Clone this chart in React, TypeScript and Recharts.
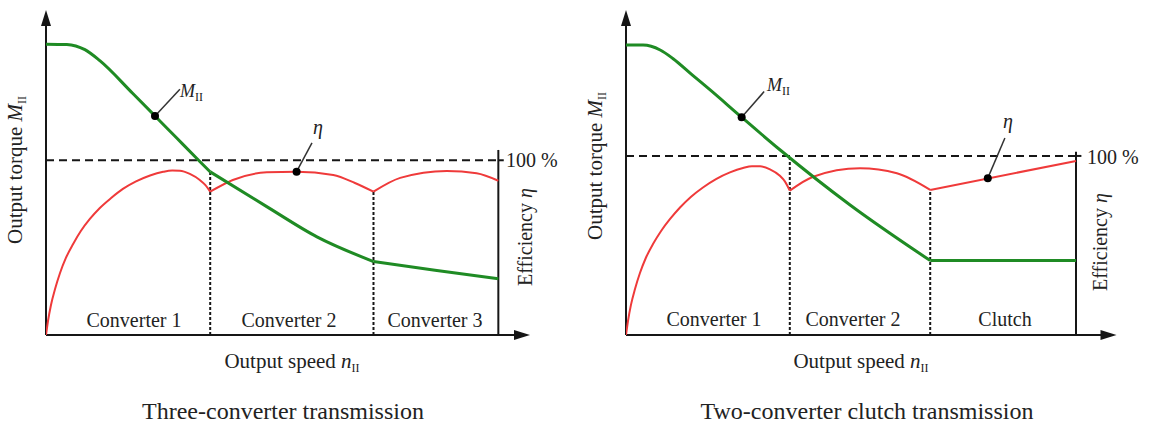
import React from 'react';
import { LineChart, Line, XAxis, YAxis, ReferenceLine, ReferenceDot } from 'recharts';

const FONT = '"Liberation Serif", "Times New Roman", serif';
const GREEN = '#1f8b24';
const RED = '#ef3a3a';
const INK = '#161616';
const TXT = '#222';

// ---------- Left: three-converter transmission ----------
const leftTorque1 = [
  { x: 0, T: 89.5 }, { x: 4.6, T: 89.4 }, { x: 8.6, T: 87.8 }, { x: 11.9, T: 84.4 },
  { x: 19.2, T: 74.3 }, { x: 24.1, T: 67.4 }, { x: 28.9, T: 60.6 }, { x: 34.0, T: 53.4 }, { x: 36.3, T: 50.2 },
];
const leftTorque2 = [{ x: 36.3, T: 50.2 }, { x: 48.8, T: 39.5 }, { x: 59.9, T: 30.2 }, { x: 72.4, T: 22.6 }];
const leftTorque3 = [{ x: 72.4, T: 22.6 }, { x: 86, T: 19.9 }, { x: 100, T: 17.3 }];
const leftEta1 = [
  { x: 0, e: 0 }, { x: 0.44, e: 8.0 }, { x: 1.1, e: 17.2 }, { x: 2.0, e: 26.3 }, { x: 3.1, e: 35.5 },
  { x: 4.4, e: 44.1 }, { x: 6.0, e: 52.1 }, { x: 7.7, e: 59.5 }, { x: 9.7, e: 66.4 }, { x: 11.9, e: 72.7 },
  { x: 14.4, e: 78.4 }, { x: 17.0, e: 83.6 }, { x: 19.9, e: 87.9 }, { x: 23.0, e: 91.3 }, { x: 25.9, e: 93.4 },
  { x: 27.9, e: 94.1 }, { x: 29.6, e: 94.0 }, { x: 31.8, e: 92.2 }, { x: 34.0, e: 88.7 }, { x: 35.2, e: 85.9 },
  { x: 36.3, e: 82.0 },
];
const leftEta2 = [
  { x: 36.3, e: 82.0 }, { x: 41.3, e: 88.7 }, { x: 48.8, e: 93.1 }, { x: 55.4, e: 93.5 },
  { x: 63.5, e: 91.6 }, { x: 68.3, e: 87.0 }, { x: 72.4, e: 82.0 },
];
const leftEta3 = [{ x: 72.4, e: 82.0 }, { x: 78.3, e: 89.9 }, { x: 88.6, e: 93.9 }, { x: 95.2, e: 92.6 }, { x: 100, e: 88.3 }];
const leftDividers = [{ x: 36.3, top: 93.3 }, { x: 72.4, top: 82.0 }];
const leftDots = { M: { x: 24.1, T: 67.4, lx: 29.6, lT: 75.6 }, eta: { x: 55.4, e: 93.5, lx: 58.8, le: 109.9 } };
const leftSections = ['Converter 1', 'Converter 2', 'Converter 3'];

// ---------- Right: two-converter clutch transmission ----------
const rightTorque1 = [
  { x: 0, T: 89.2 }, { x: 3.8, T: 89.2 }, { x: 7.6, T: 87.7 }, { x: 10.4, T: 85.1 }, { x: 14.9, T: 79.8 },
  { x: 18.7, T: 75.4 }, { x: 25.7, T: 67.0 }, { x: 34.2, T: 57.0 }, { x: 49.8, T: 40.0 }, { x: 67.6, T: 22.9 },
];
const rightTorque2 = [{ x: 67.6, T: 22.9 }, { x: 100, T: 22.9 }];
const rightEta1 = [
  { x: 0, e: 0 }, { x: 0.44, e: 7.8 }, { x: 1.1, e: 16.8 }, { x: 2.0, e: 25.7 }, { x: 3.1, e: 34.6 },
  { x: 4.4, e: 43.0 }, { x: 6.0, e: 50.8 }, { x: 7.8, e: 58.1 }, { x: 9.8, e: 64.8 }, { x: 12.0, e: 71.2 },
  { x: 14.4, e: 77.1 }, { x: 17.1, e: 82.4 }, { x: 20.0, e: 87.1 }, { x: 23.1, e: 90.8 }, { x: 26.0, e: 93.3 },
  { x: 28.0, e: 94.3 }, { x: 29.8, e: 94.2 }, { x: 32.0, e: 92.5 }, { x: 34.2, e: 88.9 }, { x: 35.3, e: 85.8 },
  { x: 36.4, e: 80.6 },
];
const rightEta2 = [{ x: 36.4, e: 80.6 }, { x: 41.6, e: 88.4 }, { x: 52.0, e: 93.1 }, { x: 60.2, e: 90.3 }, { x: 67.6, e: 81.0 }];
const rightEta3 = [{ x: 67.6, e: 81.0 }, { x: 100, e: 97.2 }];
const rightDividers = [{ x: 36.4, top: 100 }, { x: 67.6, top: 81.0 }];
const rightDots = { M: { x: 25.7, T: 67.0, lx: 30.7, lT: 74.9 }, eta: { x: 80.4, e: 87.6, lx: 84.2, le: 110.0 } };
const rightSections = ['Converter 1', 'Converter 2', 'Clutch'];

const ArrowUp = (p: any) => (
  <polygon points={`${p.cx},${p.cy} ${p.cx - 5},${p.cy + 16} ${p.cx + 5},${p.cy + 16}`} fill={INK} />
);
const ArrowRight = (p: any) => (
  <polygon points={`${p.cx},${p.cy} ${p.cx - 16},${p.cy - 5} ${p.cx - 16},${p.cy + 5}`} fill={INK} />
);
const Dot = (p: any) => <circle cx={p.cx} cy={p.cy} r={4} fill="#000" />;

type PanelProps = {
  width: number; marginRight: number; xMax: number; etaMax: number; rightTop: number;
  torque: { x: number; T: number }[][]; eta: { x: number; e: number }[][];
  dividers: { x: number; top: number }[]; dots: any;
};

function Panel(props: PanelProps) {
  const { width, marginRight, xMax, etaMax, rightTop, torque, eta, dividers, dots } = props;
  return (
    <LineChart width={width} height={425} margin={{ top: 10, right: marginRight, bottom: 90, left: 46 }}>
      <XAxis type="number" dataKey="x" domain={[0, xMax]} hide allowDataOverflow />
      <YAxis yAxisId="T" type="number" domain={[0, 100]} hide allowDataOverflow />
      <YAxis yAxisId="eta" type="number" domain={[0, etaMax]} hide allowDataOverflow />
      {/* axes */}
      <ReferenceLine yAxisId="T" ifOverflow="visible" segment={[{ x: 0, y: 0 }, { x: xMax - 1, y: 0 }]} stroke={INK} strokeWidth={2} />
      <ReferenceLine yAxisId="T" ifOverflow="visible" segment={[{ x: 0, y: 0 }, { x: 0, y: 97 }]} stroke={INK} strokeWidth={2} />
      <ReferenceLine yAxisId="eta" ifOverflow="visible" segment={[{ x: 100, y: 0 }, { x: 100, y: rightTop }]} stroke={INK} strokeWidth={2} />
      <ReferenceLine yAxisId="eta" ifOverflow="visible" segment={[{ x: 0, y: 100 }, { x: 100, y: 100 }]} stroke={INK} strokeWidth={2} strokeDasharray="8 5" />
      <ReferenceLine yAxisId="eta" ifOverflow="visible" segment={[{ x: 100, y: 100 }, { x: 101.2, y: 100 }]} stroke={INK} strokeWidth={2} />
      {dividers.map((d, i) => (
        <ReferenceLine key={'d' + i} yAxisId="eta" ifOverflow="visible" segment={[{ x: d.x, y: 0 }, { x: d.x, y: d.top }]} stroke={INK} strokeWidth={2} strokeDasharray="3 2" />
      ))}
      <ReferenceDot yAxisId="T" ifOverflow="visible" x={0} y={100} shape={ArrowUp} />
      <ReferenceDot yAxisId="T" ifOverflow="visible" x={xMax} y={0} shape={ArrowRight} />
      {eta.map((d, i) => (
        <Line key={'e' + i} yAxisId="eta" data={d} dataKey="e" type="monotone" stroke={RED} strokeWidth={2} dot={false} activeDot={false} isAnimationActive={false} />
      ))}
      {torque.map((d, i) => (
        <Line key={'t' + i} yAxisId="T" data={d} dataKey="T" type="monotone" stroke={GREEN} strokeWidth={3} dot={false} activeDot={false} isAnimationActive={false} />
      ))}
      {/* leaders and dots */}
      <ReferenceLine yAxisId="T" ifOverflow="visible" segment={[{ x: dots.M.x, y: dots.M.T }, { x: dots.M.lx, y: dots.M.lT }]} stroke="#333" strokeWidth={1.5} />
      <ReferenceLine yAxisId="eta" ifOverflow="visible" segment={[{ x: dots.eta.x, y: dots.eta.e }, { x: dots.eta.lx, y: dots.eta.le }]} stroke="#333" strokeWidth={1.5} />
      <ReferenceDot yAxisId="T" ifOverflow="visible" x={dots.M.x} y={dots.M.T} shape={Dot} />
      <ReferenceDot yAxisId="eta" ifOverflow="visible" x={dots.eta.x} y={dots.eta.e} shape={Dot} />
    </LineChart>
  );
}

function Overlay() {
  const t = { fontFamily: FONT, fill: TXT } as const;
  const sub = (s: string) => <tspan fontSize={12} dy={4} fontStyle="normal">{s}</tspan>;
  return (
    <svg width={1157} height={425} style={{ position: 'absolute', left: 0, top: 0, pointerEvents: 'none' }}>
      {/* left panel */}
      <text {...t} fontSize={21} textAnchor="middle" transform="rotate(-90 22 170)" x={22} y={170}>
        Output torque <tspan fontStyle="italic">M</tspan>{sub('II')}
      </text>
      <text {...t} fontSize={20} textAnchor="middle" transform="rotate(-90 532 237)" x={532} y={237}>
        Efficiency <tspan fontStyle="italic">η</tspan>
      </text>
      <text {...t} fontSize={20} x={506} y={167}>100 %</text>
      <text {...t} fontSize={20} textAnchor="middle" x={134} y={327}>{leftSections[0]}</text>
      <text {...t} fontSize={20} textAnchor="middle" x={289} y={327}>{leftSections[1]}</text>
      <text {...t} fontSize={20} textAnchor="middle" x={435} y={327}>{leftSections[2]}</text>
      <text {...t} fontSize={21} textAnchor="middle" x={292} y={368}>
        Output speed <tspan fontStyle="italic">n</tspan>{sub('II')}
      </text>
      <text {...t} fontSize={24} textAnchor="middle" x={283} y={419}>Three-converter transmission</text>
      <text {...t} fontSize={18} x={180} y={97}><tspan fontStyle="italic">M</tspan>{sub('II')}</text>
      <text {...t} fontSize={20} fontStyle="italic" textAnchor="middle" x={318} y={134}>η</text>

      {/* right panel */}
      <text {...t} fontSize={21} textAnchor="middle" transform="rotate(-90 602 166)" x={602} y={166}>
        Output torque <tspan fontStyle="italic">M</tspan>{sub('II')}
      </text>
      <text {...t} fontSize={20} textAnchor="middle" transform="rotate(-90 1107 242)" x={1107} y={242}>
        Efficiency <tspan fontStyle="italic">η</tspan>
      </text>
      <text {...t} fontSize={20} x={1087} y={164}>100 %</text>
      <text {...t} fontSize={20} textAnchor="middle" x={714} y={326}>{rightSections[0]}</text>
      <text {...t} fontSize={20} textAnchor="middle" x={853} y={326}>{rightSections[1]}</text>
      <text {...t} fontSize={20} textAnchor="middle" x={1005} y={326}>{rightSections[2]}</text>
      <text {...t} fontSize={21} textAnchor="middle" x={861} y={368}>
        Output speed <tspan fontStyle="italic">n</tspan>{sub('II')}
      </text>
      <text {...t} fontSize={24} textAnchor="middle" x={867} y={419}>Two-converter clutch transmission</text>
      <text {...t} fontSize={18} x={767} y={91}><tspan fontStyle="italic">M</tspan>{sub('II')}</text>
      <text {...t} fontSize={20} fontStyle="italic" textAnchor="middle" x={1008} y={128}>η</text>
    </svg>
  );
}

export default function App() {
  return (
    <div style={{ position: 'absolute', left: 0, top: 0, width: 1157, height: 425, background: '#fff', overflow: 'hidden' }}>
      <div style={{ position: 'absolute', left: 0, top: 0 }}>
        <Panel width={580} marginRight={50} xMax={107} etaMax={186} rightTop={105.9}
          torque={[leftTorque1, leftTorque2, leftTorque3]} eta={[leftEta1, leftEta2, leftEta3]}
          dividers={leftDividers} dots={leftDots} />
      </div>
      <div style={{ position: 'absolute', left: 580, top: 0 }}>
        <Panel width={577} marginRight={40.5} xMax={109} etaMax={181.5} rightTop={102.4}
          torque={[rightTorque1, rightTorque2]} eta={[rightEta1, rightEta2, rightEta3]}
          dividers={rightDividers} dots={rightDots} />
      </div>
      <Overlay />
    </div>
  );
}
